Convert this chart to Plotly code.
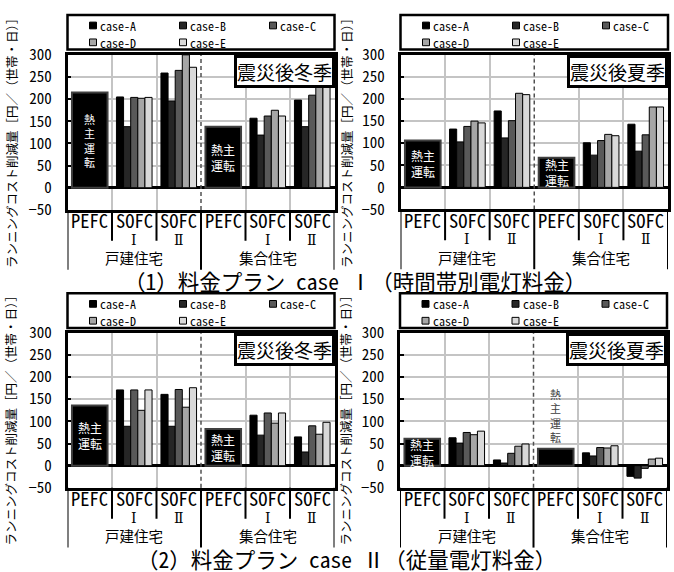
import plotly.graph_objects as go

W, H = 674, 572

# ---- categories / labels -------------------------------------------------
cases = ["case-A", "case-B", "case-C", "case-D", "case-E"]
case_colors = ["#000000", "#262626", "#595959", "#a6a6a6", "#d9d9d9"]

group_names = ["PEFC", "SOFC", "SOFC", "PEFC", "SOFC", "SOFC"]
group_marks = ["", "Ⅰ", "Ⅱ", "", "Ⅰ", "Ⅱ"]
housing = ["戸建住宅", "集合住宅"]
pefc_pos = [0, 3]          # PEFC group index in each housing type
sofc_pos = [1, 2, 4, 5]    # SOFC Ⅰ / Ⅱ group indices

y_title = "ランニングコスト削減量［円／（世帯・日）］"
y_ticks = [-50, 0, 50, 100, 150, 200, 250, 300]
pefc_label = "熱主運転"
seasons = ["震災後冬季", "震災後夏季"]
plan_titles = ["（1）料金プラン case Ⅰ（時間帯別電灯料金）",
               "（2）料金プラン case Ⅱ（従量電灯料金）"]

# ---- values: 円/(世帯・日) ------------------------------------------------
# PEFC (heat-led): [戸建, 集合]
# SOFC rows = case-A..E, cols = [戸建 SOFCⅠ, 戸建 SOFCⅡ, 集合 SOFCⅠ, 集合 SOFCⅡ]
plan1_winter_pefc = [215, 138]
plan1_winter_sofc = [
    [205, 259, 157, 198],
    [138, 196, 119, 138],
    [204, 265, 162, 209],
    [202, 300, 175, 238],
    [204, 272, 162, 230],
]
plan1_summer_pefc = [106, 67]
plan1_summer_sofc = [
    [132, 173, 101, 143],
    [103, 112, 73, 82],
    [138, 151, 106, 119],
    [150, 213, 120, 182],
    [146, 210, 117, 182],
]
plan2_winter_pefc = [136, 83]
plan2_winter_sofc = [
    [171, 161, 114, 65],
    [89, 89, 69, 31],
    [171, 172, 119, 90],
    [125, 132, 96, 71],
    [171, 176, 119, 98],
]
plan2_summer_pefc = [61, 38]
plan2_summer_sofc = [
    [63, 13, 29, -24],
    [51, 6, 22, -28],
    [75, 28, 41, -6],
    [70, 44, 40, 15],
    [78, 49, 45, 17],
]

JP = "Noto Sans CJK JP, sans-serif"
MONO = "Noto Sans Mono CJK JP, Noto Sans CJK JP, DejaVu Sans Mono, monospace"
ROMAN = "DejaVu Serif, Noto Sans Mono CJK JP, serif"


def fx(px):
    return px / W


def fy(py):
    return 1 - py / H


# pixel frames of the four panels and their legends
panels = [
    dict(x0=67.5, x1=334.5, y0=44.5, y1=205.5, leg=3, ytx=11, yty=133,
         pefc=plan1_winter_pefc, sofc=plan1_winter_sofc, season=0,
         styles=[("v", "in"), ("h", "in")]),
    dict(x0=400.5, x1=668.0, y0=44.5, y1=205.0, leg=3, ytx=346, yty=133,
         pefc=plan1_summer_pefc, sofc=plan1_summer_sofc, season=1,
         styles=[("h", "in"), ("h", "in")]),
    dict(x0=67.5, x1=334.5, y0=333.0, y1=494.0, leg=292, ytx=11, yty=421,
         pefc=plan2_winter_pefc, sofc=plan2_winter_sofc, season=0,
         styles=[("h", "in"), ("h", "in")]),
    dict(x0=400.0, x1=667.0, y0=333.0, y1=494.0, leg=292, ytx=346, yty=421,
         pefc=plan2_summer_pefc, sofc=plan2_summer_sofc, season=1,
         styles=[("h", "in"), ("v", "out")]),
]

BAR_W = 0.16
fig = go.Figure()
layout = dict(
    width=W, height=H, margin=dict(l=0, r=0, t=0, b=0),
    paper_bgcolor="white", plot_bgcolor="white",
    barmode="overlay", showlegend=False,
)
shapes, annotations = [], []

for n, p in enumerate(panels, start=1):
    s = "" if n == 1 else str(n)
    xa, ya = "x" + s, "y" + s

    # SOFC bars, five cases side by side in each group
    for i, case in enumerate(cases):
        fig.add_bar(
            x=[g + (i - 2) * BAR_W for g in sofc_pos],
            y=p["sofc"][i], width=BAR_W, name=case,
            marker=dict(color=case_colors[i], line=dict(color="black", width=1)),
            xaxis=xa, yaxis=ya, hoverinfo="x+y+name",
        )
    # PEFC heat-led bars
    fig.add_bar(
        x=pefc_pos, y=p["pefc"], width=0.8, name="PEFC",
        marker=dict(color="black", line=dict(color="#404040", width=2)),
        xaxis=xa, yaxis=ya,
    )

    layout["xaxis" + s] = dict(
        domain=[fx(p["x0"]), fx(p["x1"])], range=[-0.5, 5.5], anchor=ya,
        tickvals=[0.5, 1.5, 3.5, 4.5], showticklabels=False, ticks="",
        showgrid=True, gridcolor="#c4c4c4", gridwidth=1.5, zeroline=False,
        showline=True, linecolor="black", linewidth=2.5, mirror=True,
    )
    layout["yaxis" + s] = dict(
        domain=[fy(p["y1"]), fy(p["y0"])], range=[-50, 300], anchor=xa,
        tickvals=y_ticks, ticks="inside", ticklen=4, tickwidth=2, tickcolor="black",
        showgrid=True, gridcolor="#c4c4c4", gridwidth=1.5,
        zeroline=True, zerolinecolor="black", zerolinewidth=2.5,
        showline=True, linecolor="black", linewidth=2.5, mirror=True,
        tickfont=dict(family=MONO, size=15, color="black"),
        ticklabelstandoff=10,
    )

    # dashed divider between the two housing types
    shapes.append(dict(type="line", xref=xa, yref=ya, x0=2.5, x1=2.5, y0=-50, y1=300,
                       line=dict(color="#505050", width=1.5, dash="4px,3px"), layer="between"))

    # category table under the plot
    for xb in [0.5, 1.5, 3.5, 4.5]:
        shapes.append(dict(type="line", xref=xa, yref="paper", x0=xb, x1=xb,
                           y0=fy(p["y1"]), y1=fy(p["y1"] + 32),
                           line=dict(color="black", width=2)))
    for xb in [-0.5, 2.5, 5.5]:
        shapes.append(dict(type="line", xref=xa, yref="paper", x0=xb, x1=xb,
                           y0=fy(p["y1"]), y1=fy(p["y1"] + 62),
                           line=dict(color="black", width=2)))
    for g in range(6):
        annotations.append(dict(text=group_names[g], xref=xa, yref="paper", x=g,
                                y=fy(p["y1"] + 10.5), showarrow=False, yanchor="middle",
                                font=dict(family=MONO, size=18.5, color="black")))
        if group_marks[g]:
            annotations.append(dict(text=group_marks[g], xref=xa, yref="paper", x=g,
                                    y=fy(p["y1"] + 31), showarrow=False, yanchor="middle",
                                    font=dict(family=ROMAN, size=14, color="black")))
    for k, name in enumerate(housing):
        annotations.append(dict(text=name, xref=xa, yref="paper", x=1 + 3 * k,
                                y=fy(p["y1"] + 49.5), showarrow=False, yanchor="middle",
                                font=dict(family=JP, size=14.5, color="black")))

    # 熱主運転 labels on PEFC bars
    for k, (style, where) in enumerate(p["styles"]):
        val = p["pefc"][k]
        if style == "v":
            txt, size = "<br>".join(pefc_label), 11
        else:
            txt, size = pefc_label[:2] + "<br>" + pefc_label[2:], 12
        if where == "in":
            annotations.append(dict(text=txt, xref=xa, yref=ya, x=pefc_pos[k], y=val / 2,
                                    showarrow=False, yanchor="middle",
                                    font=dict(family=JP, size=size, color="white")))
        else:
            annotations.append(dict(text=txt, xref=xa, yref=ya, x=pefc_pos[k], y=val,
                                    yshift=2, showarrow=False, yanchor="bottom",
                                    font=dict(family=JP, size=size, color="#404040")))

    # season tag
    annotations.append(dict(text=seasons[p["season"]], xref="paper", yref="paper",
                            x=fx(p["x1"]), y=fy(p["y0"]), xanchor="right", yanchor="top",
                            showarrow=False, bgcolor="white", bordercolor="black",
                            borderwidth=3, borderpad=0,
                            font=dict(family=JP, size=19, color="black")))

    # y-axis title
    annotations.append(dict(text=y_title, xref="paper", yref="paper",
                            x=fx(p["ytx"]), y=fy(p["yty"]), textangle=-90,
                            showarrow=False, xanchor="center", yanchor="middle",
                            font=dict(family=JP, size=12.5, color="black")))

    # legend box
    top = p["leg"]
    shapes.append(dict(type="rect", xref="paper", yref="paper",
                       x0=fx(p["x0"]), x1=fx(p["x1"]), y0=fy(top), y1=fy(top + 36),
                       line=dict(color="black", width=2.5), fillcolor="white"))
    col_off = [22, 112, 202]
    for i, case in enumerate(cases):
        c, r = i % 3, i // 3
        sx = p["x0"] + col_off[c]
        cy = top + 11 + 17.5 * r
        shapes.append(dict(type="rect", xref="paper", yref="paper",
                           x0=fx(sx), x1=fx(sx + 7), y0=fy(cy + 3.5), y1=fy(cy - 3.5),
                           line=dict(color="black", width=1), fillcolor=case_colors[i]))
        annotations.append(dict(text=case, xref="paper", yref="paper",
                                x=fx(sx + 8.5), y=fy(cy), xanchor="left", yanchor="middle",
                                showarrow=False,
                                font=dict(family=MONO, size=12, color="black")))

# plan titles
annotations.append(dict(text=plan_titles[0], xref="paper", yref="paper",
                        x=fx(355), y=fy(278.5), showarrow=False, yanchor="middle",
                        font=dict(family=MONO, size=21.5, color="black")))
annotations.append(dict(text=plan_titles[1], xref="paper", yref="paper",
                        x=fx(346), y=fy(567), showarrow=False, yanchor="middle",
                        font=dict(family=MONO, size=21.5, color="black")))

layout["shapes"] = shapes
layout["annotations"] = annotations
fig.update_layout(**layout)
fig.write_html("out.html")
